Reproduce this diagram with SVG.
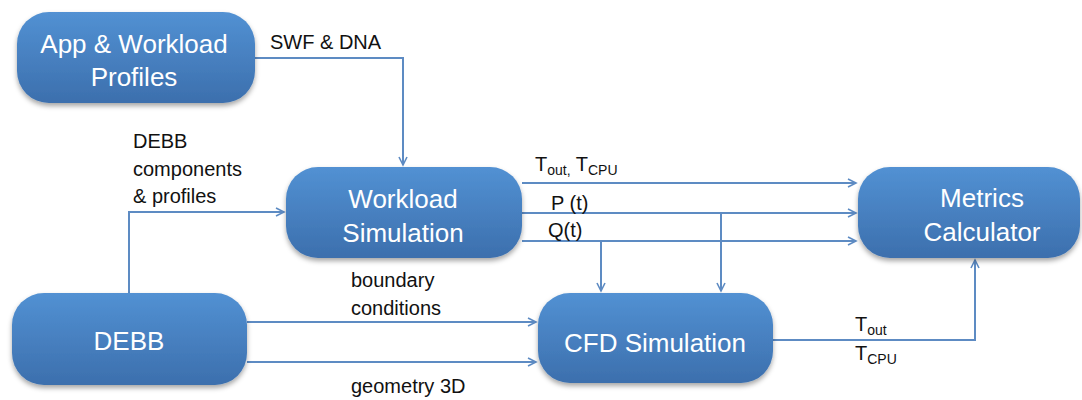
<svg xmlns="http://www.w3.org/2000/svg" width="1082" height="400" viewBox="0 0 1082 400">
<defs>
<linearGradient id="g" x1="0" y1="0" x2="0" y2="1">
<stop offset="0" stop-color="#5291d3"/>
<stop offset="1" stop-color="#3c6fad"/>
</linearGradient>
<filter id="sh" x="-10%" y="-10%" width="120%" height="130%">
<feDropShadow dx="0" dy="3" stdDeviation="2.5" flood-color="#000" flood-opacity="0.35"/>
</filter>
<marker id="ar" markerUnits="userSpaceOnUse" markerWidth="12" markerHeight="12" refX="9" refY="5" orient="auto" viewBox="0 0 12 10">
<path d="M1,1 L9,5 L1,9" fill="none" stroke="#5d8bc3" stroke-width="1.6"/>
</marker>
<style>
.box{fill:url(#g);filter:url(#sh)}
.bt{font-family:"Liberation Sans",Arial,sans-serif;font-size:26px;fill:#fff;text-anchor:middle}
.lb{font-family:"Liberation Sans",Arial,sans-serif;font-size:20px;fill:#111}
.sub{font-size:14px}
.c{fill:none;stroke:#5d8bc3;stroke-width:2}
</style>
</defs>
<g id="connectors">
<path class="c" d="M255,58 H403 V165" marker-end="url(#ar)"/>
<path class="c" d="M129,293 V212 H284" marker-end="url(#ar)"/>
<path class="c" d="M522,183 H856" marker-end="url(#ar)"/>
<path class="c" d="M522,213 H856" marker-end="url(#ar)"/>
<path class="c" d="M522,241 H856" marker-end="url(#ar)"/>
<path class="c" d="M601,241 V291" marker-end="url(#ar)"/>
<path class="c" d="M721,213 V291" marker-end="url(#ar)"/>
<path class="c" d="M247,322 H536" marker-end="url(#ar)"/>
<path class="c" d="M247,362 H536" marker-end="url(#ar)"/>
<path class="c" d="M773,340 H975 V260" marker-end="url(#ar)"/>
<text class="lb" x="270" y="49">SWF &amp; DNA</text>
<text class="lb" x="133" y="148">DEBB</text>
<text class="lb" x="133" y="176">components</text>
<text class="lb" x="133" y="203">&amp; profiles</text>
<text class="lb" x="535" y="171">T<tspan class="sub" dy="4">out,</tspan><tspan dy="-4"> T</tspan><tspan class="sub" dy="4">CPU</tspan></text>
<text class="lb" x="551" y="210">P (t)</text>
<text class="lb" x="548" y="237">Q(t)</text>
<text class="lb" x="351" y="287">boundary</text>
<text class="lb" x="351" y="315">conditions</text>
<text class="lb" x="351" y="393">geometry 3D</text>
<text class="lb" x="855" y="331">T<tspan class="sub" dy="4">out</tspan></text>
<text class="lb" x="855" y="360">T<tspan class="sub" dy="4">CPU</tspan></text>
</g>
<g id="app">
<rect class="box" x="17" y="12" width="238" height="91" rx="32"/>
<text class="bt" x="134" y="53">App &amp; Workload</text>
<text class="bt" x="134" y="86">Profiles</text>
</g>
<g id="workload">
<rect class="box" x="286" y="167" width="236" height="91" rx="32"/>
<text class="bt" x="403" y="208">Workload</text>
<text class="bt" x="403" y="242">Simulation</text>
</g>
<g id="metrics">
<rect class="box" x="858" y="167" width="222" height="91" rx="32"/>
<text class="bt" x="982" y="207">Metrics</text>
<text class="bt" x="982" y="241">Calculator</text>
</g>
<g id="debb">
<rect class="box" x="12" y="293" width="235" height="92" rx="32"/>
<text class="bt" x="129" y="350">DEBB</text>
</g>
<g id="cfd">
<rect class="box" x="538" y="293" width="235" height="90" rx="32"/>
<text class="bt" x="655" y="352">CFD Simulation</text>
</g>
</svg>
